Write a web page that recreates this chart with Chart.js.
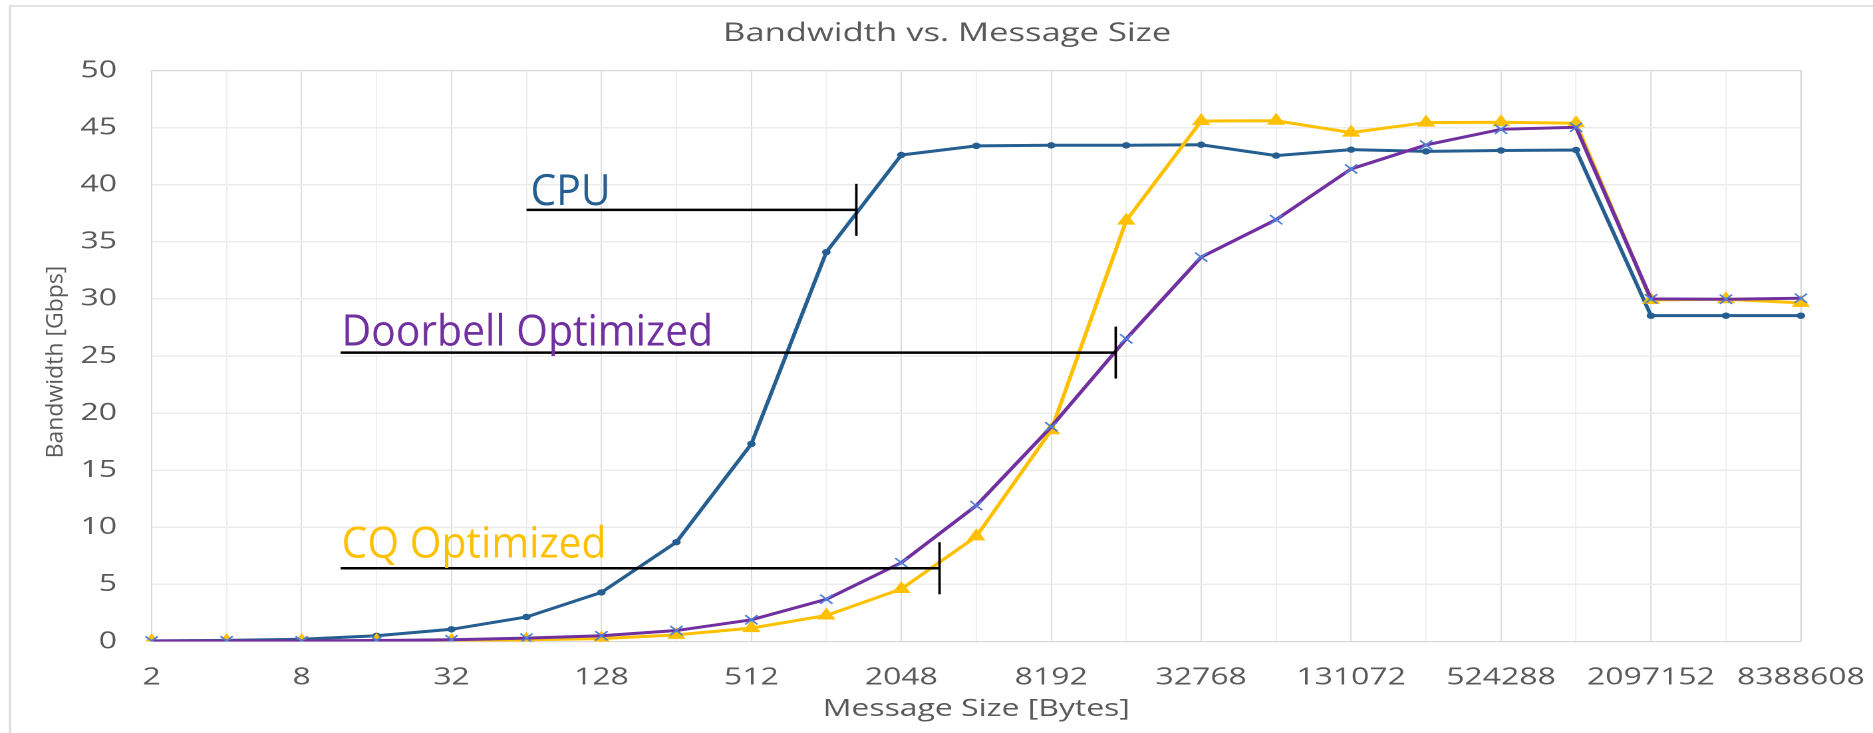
<!DOCTYPE html>
<html lang="en">
<head>
<meta charset="UTF-8" />
<title>Bandwidth vs. Message Size</title>
<script src="https://cdn.jsdelivr.net/npm/chart.js"></script>
<style>
  html, body { margin: 0; padding: 0; background: #fff; overflow: hidden; }
  #wrap { width: 1873px; height: 733px; overflow: hidden; }
  #bwChart { transform-origin: 0 0; }
</style>
</head>
<body>
<div id="wrap"><canvas id="bwChart" width="1408" height="733"></canvas></div>

<script>
  // message sizes, 2^1 .. 2^23 bytes
  const sizes = ['2', '4', '8', '16', '32', '64', '128', '256', '512', '1024', '2048', '4096',
    '8192', '16384', '32768', '65536', '131072', '262144', '524288', '1048576',
    '2097152', '4194304', '8388608'];
  // only every other size gets a label
  const tickLabels = ['2', '8', '32', '128', '512', '2048', '8192', '32768',
    '131072', '524288', '2097152', '8388608'];

  // bandwidth in Gbps
  const cpu = [0.05, 0.1, 0.2, 0.5, 1.07, 2.15, 4.3, 8.7, 17.3, 34.1, 42.6, 43.4,
    43.45, 43.45, 43.5, 42.55, 43.07, 42.92, 43.0, 43.04, 28.53, 28.53, 28.53];
  const doorbell = [0.04, 0.05, 0.06, 0.09, 0.15, 0.3, 0.5, 0.96, 1.9, 3.7, 6.9, 11.9,
    18.8, 26.5, 33.66, 36.94, 41.38, 43.48, 44.85, 45.03, 30.0, 29.97, 30.06];
  const cqOpt = [0.02, 0.03, 0.04, 0.05, 0.07, 0.15, 0.25, 0.58, 1.17, 2.28, 4.6, 9.2,
    18.5, 36.85, 45.58, 45.6, 44.56, 45.44, 45.47, 45.38, 29.9, 29.97, 29.65];

  // the original chart picture is stretched sideways; the callout text on top is not
  const S = 1873 / 1408;
  document.getElementById('bwChart').style.transform = 'scaleX(' + S + ')';

  // callouts: pointer line from category index `from` to `to` at value `at`
  const callouts = [
    { text: 'CPU', color: '#255E91', from: 5.0, to: 9.4, at: 37.8, lift: 5, dx: 4 },
    { text: 'Doorbell Optimized', color: '#7030A0', from: 2.52, to: 12.86, at: 25.3, lift: 7, dx: 1 },
    { text: 'CQ Optimized', color: '#FFC000', from: 2.52, to: 10.51, at: 6.41, lift: 11, dx: 1 }
  ];

  const grey = '#595959';

  // draw text without the sideways stretch
  function flatText(ctx, text, x, y, opts) {
    ctx.save();
    ctx.translate(x, y);
    ctx.scale((opts.squeeze || 1) / S, 1);
    if (opts.rotate) ctx.rotate(opts.rotate);
    ctx.font = opts.font;
    ctx.fillStyle = opts.color;
    ctx.textAlign = opts.align || 'left';
    ctx.textBaseline = opts.baseline || 'alphabetic';
    ctx.fillText(text, 0, 0);
    ctx.restore();
  }

  const extras = {
    id: 'extras',
    beforeDraw(chart) {
      const ctx = chart.ctx;
      ctx.save();
      ctx.strokeStyle = '#d9d9d9';
      ctx.lineWidth = 1.5;
      ctx.strokeRect(10 / S, 6, 2000, 800);
      ctx.restore();
    },
    beforeDatasetsDraw(chart) {
      const a = chart.chartArea;
      const ctx = chart.ctx;
      ctx.save();
      ctx.strokeStyle = '#d9d9d9';
      ctx.lineWidth = 1;
      ctx.strokeRect(a.left, a.top, a.right - a.left, a.bottom - a.top);
      ctx.restore();
    },
    afterDatasetsDraw(chart) {
      const ctx = chart.ctx;
      const xs = chart.scales.x, ys = chart.scales.y;
      callouts.forEach(c => {
        const x0 = xs.getPixelForValue(c.from);
        const x1 = xs.getPixelForValue(c.to);
        const y = ys.getPixelForValue(c.at);
        ctx.save();
        ctx.strokeStyle = '#000';
        ctx.lineWidth = 2.5;
        ctx.beginPath();
        ctx.moveTo(x0, y);
        ctx.lineTo(x1, y);
        ctx.stroke();
        ctx.lineWidth = 2.5 / S;
        ctx.beginPath();
        ctx.moveTo(x1, y - 26);
        ctx.lineTo(x1, y + 26);
        ctx.stroke();
        ctx.restore();
        flatText(ctx, c.text, x0 + c.dx / S, y - c.lift, {
          font: '43px "Open Sans"', color: c.color, squeeze: 0.95
        });
      });
    },
    afterDraw(chart) {
      flatText(chart.ctx, 'Bandwidth [Gbps]', 56 / S, 362, {
        font: '23px "Open Sans"', color: grey, align: 'center', baseline: 'middle',
        rotate: -Math.PI / 2
      });
    }
  };

  Chart.defaults.font.family = '"Open Sans", sans-serif';

  new Chart(document.getElementById('bwChart'), {
    type: 'line',
    data: {
      labels: sizes,
      datasets: [
        {
          label: 'Doorbell Optimized',
          data: doorbell,
          borderColor: '#7030A0',
          borderWidth: 3,
          pointStyle: 'crossRot',
          pointRadius: 6.5,
          pointBorderColor: '#4F7FD8',
          pointBackgroundColor: '#4F7FD8',
          pointBorderWidth: 1.5
        },
        {
          label: 'CQ Optimized',
          data: cqOpt,
          borderColor: '#FFC000',
          borderWidth: 3,
          pointStyle: 'triangle',
          pointRadius: 7,
          pointBorderColor: '#FFC000',
          pointBackgroundColor: '#FFC000',
          pointBorderWidth: 1
        },
        {
          label: 'CPU',
          data: cpu,
          borderColor: '#255E91',
          borderWidth: 3,
          pointStyle: 'circle',
          pointRadius: 3.2,
          pointBorderColor: '#255E91',
          pointBackgroundColor: '#255E91',
          pointBorderWidth: 0
        }
      ]
    },
    options: {
      responsive: false,
      devicePixelRatio: 2,
      animation: false,
      layout: { padding: { left: 16, right: 0, top: 0, bottom: 9.6 } },
      plugins: {
        legend: { display: false },
        tooltip: { enabled: false },
        title: {
          display: true,
          text: 'Bandwidth vs. Message Size',
          color: grey,
          font: { size: 26, weight: 'normal' },
          padding: { top: 18, bottom: 21.3 }
        }
      },
      scales: {
        x: {
          grid: {
            drawTicks: false,
            lineWidth: 0.9,
            color: c => (c.index % 2 === 0 ? '#dadada' : '#eeeeee')
          },
          border: { display: false },
          ticks: {
            autoSkip: false,
            maxRotation: 0,
            padding: 22,
            color: grey,
            font: { size: 24 },
            callback: (v, i) => (tickLabels.includes(sizes[i]) ? sizes[i] : '')
          },
          title: {
            display: true,
            text: 'Message Size [Bytes]',
            color: grey,
            font: { size: 24 },
            padding: { top: 0, bottom: 0 }
          },
          afterFit(scale) {
            scale.height = 81.9;
            scale.paddingLeft = 0;
            scale.paddingRight = 54.2;
          }
        },
        y: {
          min: 0,
          max: 50,
          grid: { drawTicks: false, color: '#ececec', lineWidth: 1.5 },
          border: { display: false },
          ticks: { stepSize: 5, padding: 26, color: grey, font: { size: 24 } },
          afterFit(scale) {
            scale.width = 98;
            scale.paddingTop = 0;
            scale.paddingBottom = 0;
          }
        }
      }
    },
    plugins: [extras]
  });
</script>
</body>
</html>
